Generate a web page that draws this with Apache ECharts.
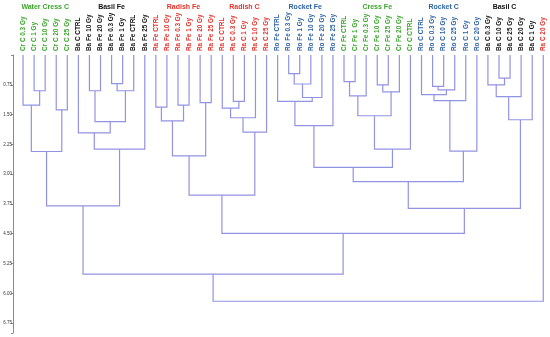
<!DOCTYPE html>
<html><head><meta charset="utf-8">
<script src="https://cdn.jsdelivr.net/npm/echarts@6/dist/echarts.min.js"></script>
<style>html,body{margin:0;padding:0;background:#fff}#c{width:550px;height:337px}</style>
</head><body><div id="c"></div><script>
// Leaves (left to right)
const leafLabels = [
 'Cr C 0.3 Gy','Cr C 1 Gy','Cr C 10 Gy','Cr C 20 Gy','Cr C 25 Gy',
 'Ba C CTRL','Ba Fe 10 Gy','Ba Fe 20 Gy','Ba Fe 0.3 Gy','Ba Fe 1 Gy','Ba Fe CTRL','Ba Fe 25 Gy',
 'Ra Fe CTRL','Ra Fe 10 Gy','Ra Fe 0.3 Gy','Ra Fe 1 Gy','Ra Fe 20 Gy','Ra Fe 25 Gy',
 'Ra C CTRL','Ra C 0.3 Gy','Ra C 1 Gy','Ra C 10 Gy','Ra C 25 Gy',
 'Ro Fe CTRL','Ro Fe 0.3 Gy','Ro Fe 1 Gy','Ro Fe 10 Gy','Ro Fe 20 Gy','Ro Fe 25 Gy',
 'Cr Fe CTRL','Cr Fe 1 Gy','Cr Fe 0.3 Gy','Cr Fe 10 Gy','Cr Fe 25 Gy','Cr Fe 20 Gy','Cr C CTRL',
 'Ro C CTRL','Ro C 0.3 Gy','Ro C 10 Gy','Ro C 25 Gy','Ro C 1 Gy','Ro C 20 Gy',
 'Ba C 0.3 Gy','Ba C 10 Gy','Ba C 25 Gy','Ba C 20 Gy','Ba C 1 Gy','Ra C 20 Gy'
];
// Linkage: ids < 48 are leaves, id >= 48 refers to merge (id - 48)
const mergeA = [24,43,29,8,48,42,32,37,55,1,6,51,54,36,50,53,52,61,23,19,16,0,14,12,18,3,62,72,63,71,58,66,75,5,81,65,69,74,77,79,87,86,84,88,89,90,93];
const mergeB = [25,44,30,9,26,49,33,38,39,2,7,10,34,56,31,45,27,40,64,20,17,57,15,13,67,4,60,21,46,70,59,28,22,78,11,41,73,35,68,85,83,80,82,76,91,92,47];
const mergeHeight = [0.47,0.58,0.67,0.72,0.73,0.75,0.75,0.79,0.88,0.90,0.90,0.90,0.93,1.00,1.03,1.05,1.07,1.15,1.17,1.17,1.20,1.26,1.26,1.31,1.34,1.38,1.53,1.58,1.63,1.66,1.68,1.78,1.94,1.96,2.37,2.42,2.43,2.37,2.54,2.83,3.19,3.53,3.80,3.86,4.49,5.52,6.20];
// Group headers
const groupNames = ['Water Cress C','Basil Fe','Radish Fe','Radish C','Rocket Fe','Cress Fe','Rocket C','Basil C'];
const groupFirst = [0,5,12,18,23,29,35,41];
const groupLast  = [4,11,17,22,28,35,41,46];
const groupKind  = ['Cr','Ba','Ra','Ra','Ro','Cr','Ro','Ba'];

const kindColor = {Cr:'#3aa52a', Ba:'#111111', Ra:'#e5322b', Ro:'#2f63a6'};
const lineColor = '#9393e3';
const N = leafLabels.length;

const chart = echarts.init(document.getElementById('c'), null, {renderer:'canvas'});

function renderItem(params, api){
  const cache = {};
  function nx(id){
    if (cache[id] !== undefined) return cache[id];
    let v;
    if (id < N) v = api.coord([id, 0])[0];
    else v = (nx(mergeA[id-N]) + nx(mergeB[id-N]))/2;
    cache[id] = v; return v;
  }
  function ny(id){ return api.coord([0, id < N ? 0 : mergeHeight[id-N]])[1]; }
  const i = params.dataIndex;
  const a = mergeA[i], b = mergeB[i];
  const y = api.coord([0, mergeHeight[i]])[1];
  const xa = nx(a), xb = nx(b);
  return {
    type:'polyline',
    shape:{points:[[xa, ny(a)],[xa, y],[xb, y],[xb, ny(b)]]},
    style:{stroke:lineColor, fill:null, lineWidth:1.2}
  };
}

const option = {
  animation:false,
  backgroundColor:'#fff',
  grid:{left:17.5, right:1.2, top:55, bottom:4, containLabel:false},
  xAxis:{
    type:'category', position:'top', data:leafLabels, boundaryGap:true,
    axisLine:{show:false}, axisTick:{show:false}, splitLine:{show:false},
    axisLabel:{
      interval:0, rotate:90, margin:4, fontSize:6.4, fontWeight:'bold',
      fontFamily:'Arial, "Liberation Sans", sans-serif',
      color:function(v){ return kindColor[String(v).slice(0,2)] || '#000'; }
    }
  },
  yAxis:{
    type:'value', inverse:true, min:0, max:7, interval:0.75, offset:4.5,
    axisLine:{show:true, lineStyle:{color:'#8a8a8a', width:1}},
    axisTick:{show:true, length:2, lineStyle:{color:'#8a8a8a'}},
    splitLine:{show:false},
    axisLabel:{
      fontSize:4.5, color:'#333', margin:1,
      fontFamily:'Arial, "Liberation Sans", sans-serif',
      formatter:function(v){ if (v===0 || Math.abs(v-7)<1e-6) return ''; return v.toFixed(2); }
    }
  },
  series:[{
    type:'custom', renderItem:renderItem, clip:false,
    data: mergeHeight.map((h,i)=>[i,h]),
    encode:{x:0, y:1}, silent:true
  }]
};
chart.setOption(option);

const texts = groupNames.map((g,k)=>{
  const x1 = chart.convertToPixel({xAxisIndex:0}, groupFirst[k]);
  const x2 = chart.convertToPixel({xAxisIndex:0}, groupLast[k]);
  return {
    type:'text', x:(x1+x2)/2, y:7,
    style:{text:g, fill:kindColor[groupKind[k]], font:'bold 7px Arial, "Liberation Sans", sans-serif',
      textAlign:'center', textVerticalAlign:'middle'}
  };
});
chart.setOption({graphic:texts});
</script></body></html>
